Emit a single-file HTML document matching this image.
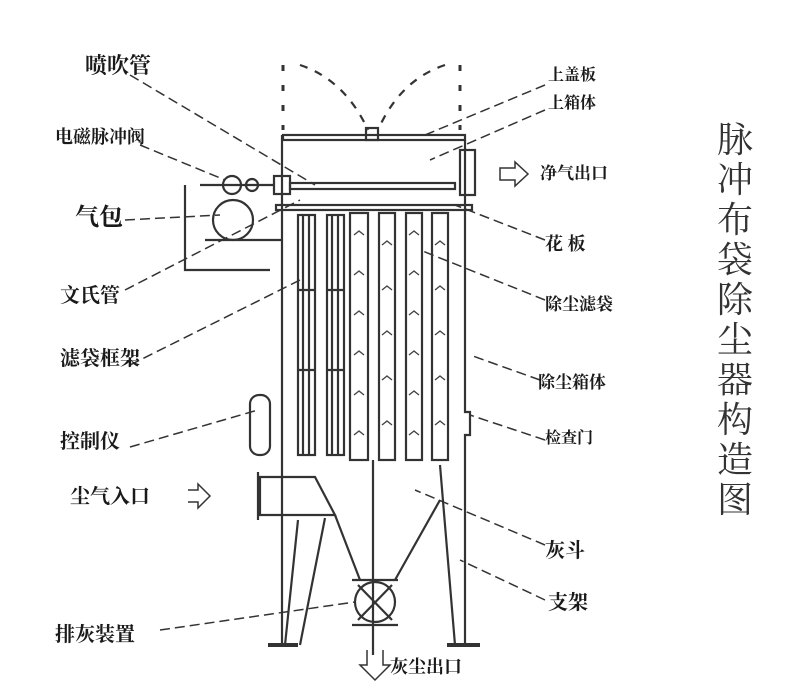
<!DOCTYPE html>
<html><head><meta charset="utf-8"><style>
html,body{margin:0;padding:0;background:#fff}
svg{display:block}
text{font-family:"Liberation Serif","Noto Serif CJK SC",serif;fill:#1a1a1a;font-weight:bold}
text.t{font-weight:normal;fill:#333}
</style></head><body>
<svg width="805" height="695" viewBox="0 0 805 695" xmlns="http://www.w3.org/2000/svg">
<rect width="805" height="695" fill="#fff"/>
<g stroke="#333" fill="none" stroke-width="2.2">
<path d="M283 65 V130 M460 65 V130" stroke-dasharray="6,14" stroke-width="3"/>
<path d="M300 65 Q345 80 368 130 M445 65 Q400 80 378 130" stroke-dasharray="8,8"/>
<rect x="283" y="135" width="182" height="5"/>
<rect x="366" y="128" width="12" height="12"/>
<path d="M282 135 V645 M465 140 V412 H470 V435 H465 V645"/>
<rect x="460" y="150" width="15" height="45"/>
<rect x="290" y="183" width="165" height="6"/>
<rect x="274" y="176" width="16" height="18"/>
<path d="M200 185 H274"/>
<circle cx="232" cy="185" r="9"/><circle cx="252" cy="185" r="6"/>
<rect x="276" y="205" width="196" height="5"/>
<rect x="298" y="215" width="17" height="240"/>
<rect x="327" y="215" width="17" height="240"/>
<path d="M303 215 V455 M309 215 V455 M332 215 V455 M338 215 V455 M298 290 H315 M298 370 H315 M327 290 H344 M327 370 H344"/>
<rect x="350" y="213" width="18" height="247"/>
<rect x="379" y="213" width="16" height="247"/>
<rect x="406" y="213" width="16" height="247"/>
<rect x="432" y="213" width="16" height="247"/>
<circle cx="233" cy="220" r="20"/>
<path d="M205 240 H282 M185 185 V270 H270"/>
<rect x="250" y="395" width="20" height="60" rx="9"/>
<path d="M260 477 H315 L335 515 H260 Z M258 472 V520"/>
<path d="M335 515 L360 580 M440 500 L395 580 M373 460 V655 M440 465 L455 645"/>
<path d="M298 520 L285 645 M325 518 L300 645"/>
<circle cx="375" cy="602" r="20"/>
<path d="M352 580 H398 M352 625 H398 M358 585 L392 620 M392 585 L358 620"/>
<path d="M268 645 H298 M447 645 H480" stroke-width="4"/>
<path d="M500 168 H515 V162 L528 174 L515 186 V180 H500 Z" stroke-width="1.5"/>
<path d="M188 490 H198 V484 L210 496 L198 508 V502 H188" stroke-width="1.5"/>
<path d="M367 650 V665 H360 L375 680 L390 665 H383 V650" stroke-width="1.5"/>
</g>
<g stroke="#444" fill="none" stroke-width="1.4">
<path d="M354 235 l5 -4 l5 4 M354 275 l5 -4 l5 4 M354 315 l5 -4 l5 4 M354 355 l5 -4 l5 4 M354 395 l5 -4 l5 4 M354 435 l5 -4 l5 4"/>
<path d="M382 245 l5 -4 l5 4 M382 290 l5 -4 l5 4 M382 335 l5 -4 l5 4 M382 380 l5 -4 l5 4 M382 425 l5 -4 l5 4"/>
<path d="M409 235 l5 -4 l5 4 M409 275 l5 -4 l5 4 M409 315 l5 -4 l5 4 M409 355 l5 -4 l5 4 M409 395 l5 -4 l5 4 M409 435 l5 -4 l5 4"/>
<path d="M435 245 l5 -4 l5 4 M435 290 l5 -4 l5 4 M435 335 l5 -4 l5 4 M435 380 l5 -4 l5 4 M435 425 l5 -4 l5 4"/>
</g>
<g stroke="#333" fill="none" stroke-width="1.5" stroke-dasharray="10,5">
<path d="M130 75 L315 185"/>
<path d="M140 145 L225 180"/>
<path d="M125 220 L220 215"/>
<path d="M125 290 L300 200"/>
<path d="M130 365 L300 280"/>
<path d="M130 447 L258 410"/>
<path d="M160 630 L355 602"/>
<path d="M545 85 L425 135"/>
<path d="M545 110 L430 160"/>
<path d="M545 240 L455 205"/>
<path d="M545 300 L420 250"/>
<path d="M540 380 L470 355"/>
<path d="M545 440 L470 415"/>
<path d="M545 545 L415 490"/>
<path d="M545 600 L460 560"/>
</g>
<g font-size="20">
<text x="85" y="73" font-size="22">喷吹管</text>
<text x="55" y="143" font-size="18">电磁脉冲阀</text>
<text x="75" y="225" font-size="24">气包</text>
<text x="60" y="302">文氏管</text>
<text x="60" y="365">滤袋框架</text>
<text x="60" y="448">控制仪</text>
<text x="70" y="503">尘气入口</text>
<text x="55" y="641">排灰装置</text>
<text x="548" y="80" font-size="16">上盖板</text>
<text x="548" y="108" font-size="16">上箱体</text>
<text x="540" y="179" font-size="17">净气出口</text>
<text x="545" y="250" font-size="18">花 板</text>
<text x="545" y="310" font-size="17">除尘滤袋</text>
<text x="538" y="388" font-size="17">除尘箱体</text>
<text x="545" y="443" font-size="16">检查门</text>
<text x="545" y="557">灰斗</text>
<text x="548" y="609">支架</text>
<text x="390" y="673" font-size="18">灰尘出口</text>
</g>
<g font-size="36" text-anchor="middle">
<text class="t" x="735" y="152">脉</text><text class="t" x="735" y="192">冲</text><text class="t" x="735" y="232">布</text>
<text class="t" x="735" y="272">袋</text><text class="t" x="735" y="312">除</text><text class="t" x="735" y="352">尘</text>
<text class="t" x="735" y="392">器</text><text class="t" x="735" y="432">构</text><text class="t" x="735" y="472">造</text>
<text class="t" x="735" y="512">图</text>
</g>
</svg>
</body></html>
